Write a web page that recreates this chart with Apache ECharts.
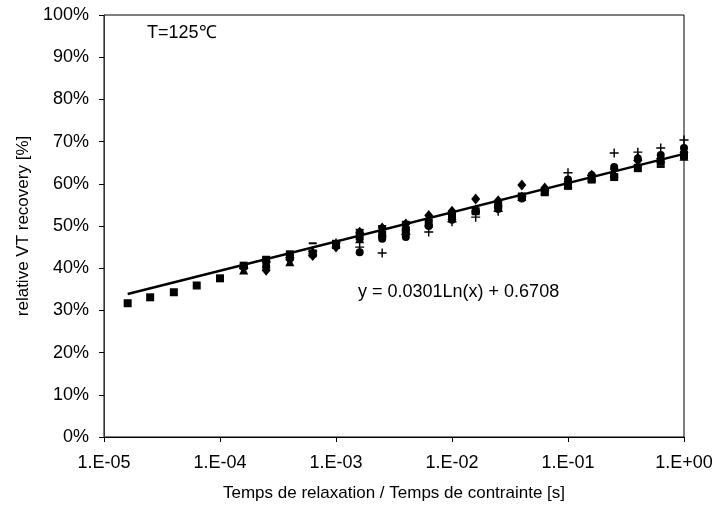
<!DOCTYPE html>
<html>
<head>
<meta charset="utf-8">
<script src="https://cdn.jsdelivr.net/npm/echarts@6/dist/echarts.min.js"></script>
<style>html,body{margin:0;padding:0;background:#fff}#c{width:716px;height:508px}</style>
</head>
<body>
<div id="c"></div>
<script>
// relaxation/stress time ratio [s]
var xAll = [1.6e-5, 2.5e-5, 4e-5, 6.3e-5, 1e-4, 1.6e-4, 2.5e-4, 4e-4, 6.3e-4, 1e-3,
  1.6e-3, 2.5e-3, 4e-3, 6.3e-3, 1e-2, 1.6e-2, 2.5e-2, 4e-2, 6.3e-2, 1e-1,
  1.6e-1, 2.5e-1, 4e-1, 6.3e-1, 1];
var xLate = xAll.slice(5);
// recovery values [%]
var squareVals = [31.7, 33.1, 34.3, 35.9, 37.6, 40.6, 42.0, 43.0, 43.5, 45.5,
  47.5, 48.0, 49.0, 50.5, 52.5, 53.5, 55.0, 57.0, 58.0, 59.5,
  61.0, 61.6, 63.7, 65.2, 66.8];
var diamondVals = [40.2, 39.5, 42.0, 43.0, 45.0, 48.5, 49.5, 50.5, 52.5, 53.5,
  56.4, 56.0, 59.7, 59.0, 60.5, 62.0, 63.5, 65.5, 66.0, 67.5];
var triangleVals = [39.6, 41.0, 41.5, 44.0, 45.8, 47.0, 48.5, 50.0, 51.0, 52.5,
  54.0, 55.5, 57.0, 58.5, 60.0, 61.5, 62.5, 66.5, 66.0, 66.5];
var circleVals = [40.3, 40.5, 43.0, 43.5, 45.5, 43.8, 47.0, 47.4, 50.0, 51.5,
  53.5, 54.0, 56.5, 58.3, 61.0, 62.0, 64.0, 66.0, 66.8, 68.5];
var plusVals = [40.0, 41.5, 42.5, 44.0, 46.0, 45.0, 43.6, 48.0, 48.6, 51.0,
  52.1, 53.5, 57.0, 58.5, 62.6, 62.0, 67.3, 67.5, 68.5, 70.4];
var dashVals = [40.5, 42.5, 44.0, 45.9, 46.5, 49.1, 50.0, 51.0, 51.5, 53.0,
  53.5, 55.0, 57.5, 58.5, 59.5, 61.0, 62.0, 64.5, 64.0, 67.0];
// trend line end points
var trendX = [1.6e-5, 1];
var trendY = [33.9, 67.1];
var yTicks = [0, 10, 20, 30, 40, 50, 60, 70, 80, 90, 100];

function pairs(xs, ys) { return ys.map(function (v, i) { return [xs[i], v]; }); }
var FONT = 'Liberation Sans';
function sc(name, xs, ys, symbol, size) {
  return { name: name, type: 'scatter', data: pairs(xs, ys), symbol: symbol, symbolSize: size,
    itemStyle: { color: '#000', opacity: 1 }, z: 3, silent: true };
}
var plusPath = 'path://M4.2,0h1.6v4.2h4.2v1.6h-4.2v4.2h-1.6v-4.2h-4.2v-1.6h4.2z';

var chart = echarts.init(document.getElementById('c'), null, { renderer: 'canvas' });
chart.setOption({
  animation: false,
  backgroundColor: '#fff',
  grid: { left: 104, right: 32, top: 15, bottom: 71, show: true, borderColor: '#000', borderWidth: 1 },
  xAxis: {
    type: 'log', logBase: 10, min: 1e-5, max: 1,
    name: 'Temps de relaxation / Temps de contrainte [s]', nameLocation: 'middle', nameGap: 48,
    nameTextStyle: { fontFamily: FONT, fontSize: 17, color: '#000' },
    axisLine: { lineStyle: { color: '#000', width: 1 } },
    axisTick: { show: true, inside: false, length: 5, lineStyle: { color: '#000' } },
    minorTick: { show: false },
    splitLine: { show: false },
    axisLabel: { fontFamily: FONT, fontSize: 18, color: '#000', margin: 17,
      formatter: function (v) {
        var e = Math.round(Math.log10(v));
        var s = e < 0 ? '-' : '+';
        var a = Math.abs(e);
        return '1.E' + s + (a < 10 ? '0' : '') + a;
      } }
  },
  yAxis: {
    type: 'value', min: yTicks[0], max: yTicks[yTicks.length - 1], interval: 10,
    name: 'relative VT recovery [%]', nameLocation: 'middle', nameGap: 64,
    nameTextStyle: { fontFamily: FONT, fontSize: 17, color: '#000' },
    axisLine: { show: true, lineStyle: { color: '#333', width: 1 } },
    axisTick: { show: true, inside: false, length: 5, lineStyle: { color: '#000' } },
    splitLine: { show: false },
    axisLabel: { fontFamily: FONT, fontSize: 18, color: '#000', margin: 15,
      formatter: function (v) { return v + '%'; } }
  },
  series: [
    { name: 'trend', type: 'line', data: pairs(trendX, trendY), showSymbol: false, symbol: 'none',
      lineStyle: { color: '#000', width: 2.5 }, z: 2, silent: true },
    sc('square', xAll, squareVals, 'rect', 8),
    sc('diamond', xLate, diamondVals, 'diamond', [9, 11]),
    sc('triangle', xLate, triangleVals, 'triangle', 9),
    sc('circle', xLate, circleVals, 'circle', 8),
    sc('plus', xLate, plusVals, plusPath, 9),
    sc('dash', xLate, dashVals, 'rect', [8, 2])
  ],
  graphic: [
    { type: 'text', left: 147, top: 24, style: { text: 'T=125\u2103', font: '18px "Liberation Sans"', fill: '#000' } },
    { type: 'text', left: 358, top: 283, style: { text: 'y = 0.0301Ln(x) + 0.6708', font: '18px "Liberation Sans"', fill: '#000' } }
  ]
});
</script>
</body>
</html>
